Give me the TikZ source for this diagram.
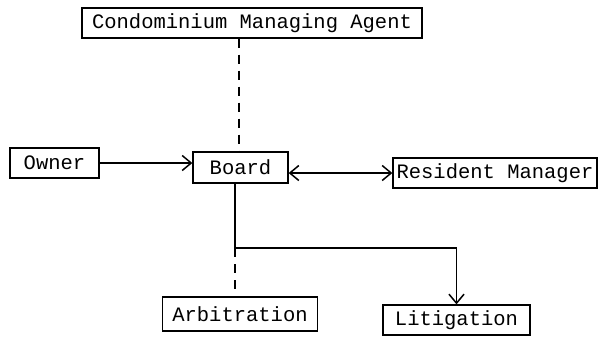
\documentclass[tikz,border=0pt]{standalone}
\usepackage{fontspec}
\setmonofont{Liberation Mono}
\usetikzlibrary{arrows.meta}
\begin{document}
\begin{tikzpicture}[x=1pt,y=-1pt,
  >={Straight Barb[length=9pt,width=15pt,line width=1.5pt]},
  box/.style={draw,line width=1.3pt,inner sep=0pt,font=\ttfamily\fontsize{20.5}{22}\selectfont},
  conn/.style={line width=1.4pt},
  dsh/.style={line width=1.5pt,dash pattern=on 9pt off 7pt}]
\useasboundingbox (0,0) rectangle (599,341);
\node[box,minimum width=340pt,minimum height=30pt] (cma) at (252,23) {Condominium Managing Agent};
\node[box,minimum width=89pt,minimum height=30pt] (owner) at (54.5,163) {Owner};
\node[box,minimum width=95pt,minimum height=31pt] (board) at (240.5,167.5) {Board};
\node[box,minimum width=204pt,minimum height=30pt] (rm) at (495,173) {Resident Manager};
\node[box,minimum width=155pt,minimum height=34pt] (arb) at (240,314) {Arbitration};
\node[box,minimum width=147pt,minimum height=30pt] (lit) at (456.5,320) {Litigation};
\coordinate (j) at (235,248);
\draw[dsh] (cma.south -| 239,0) -- (board.north -| 239,0);
\draw[conn,->] (owner.east) -- (owner.east -| board.west);
\draw[conn,<->] (board.east |- rm.west) -- (rm.west);
\draw[conn] (board.south -| j) -- (j);
\draw[conn,->] (j) -| (lit.north);
\draw[dsh] (j) -- (arb.north -| j);
\end{tikzpicture}
\end{document}
